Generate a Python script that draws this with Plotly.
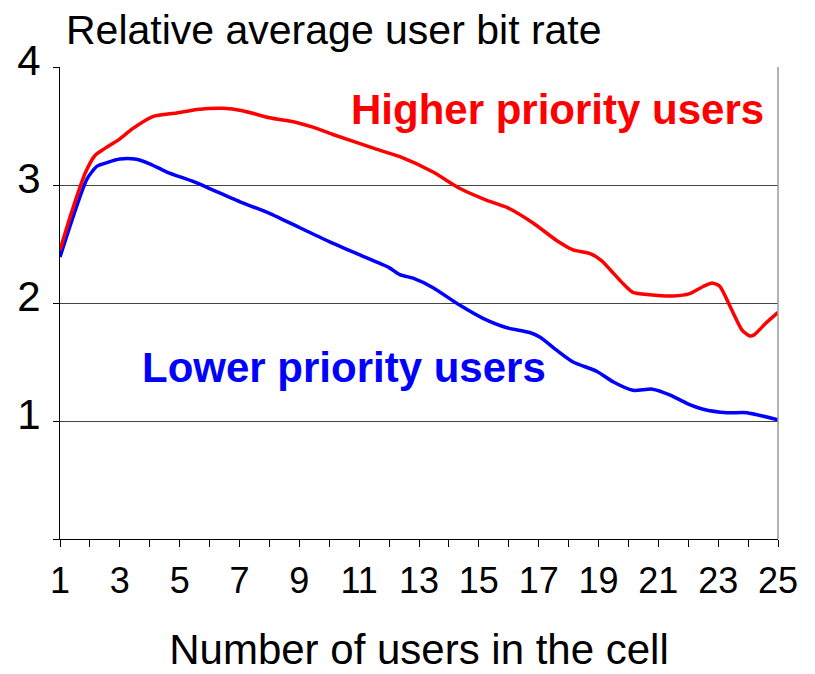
import plotly.graph_objects as go

# Data
x_high = [1, 1.4, 1.84, 2.17, 2.5, 2.94, 3.44, 4.1, 4.9, 5.58, 6.45, 7.1, 8.0, 8.9, 9.45,
          10.1, 11.5, 12.36, 13.47, 14.37, 15.27, 15.94, 16.8, 17.6, 18.15, 18.7, 19.1,
          19.4, 19.8, 20.15, 20.7, 21.5, 22.05, 22.5, 22.8, 23.06, 23.4, 23.8, 24.06,
          24.2, 24.6, 25]
y_high = [2.45, 2.78, 3.10, 3.25, 3.31, 3.38, 3.48, 3.58, 3.61, 3.64, 3.65, 3.63, 3.57,
          3.53, 3.49, 3.43, 3.31, 3.24, 3.11, 2.97, 2.87, 2.81, 2.68, 2.53, 2.45, 2.42,
          2.36, 2.28, 2.17, 2.09, 2.07, 2.06, 2.08, 2.14, 2.17, 2.14, 1.97, 1.77, 1.72,
          1.73, 1.83, 1.92]

x_low = [1, 1.9, 2.24, 2.57, 3.0, 3.5, 4.0, 4.57, 5.45, 6.0, 7.0, 8.0, 9.0, 10.0, 10.9,
         12.0, 12.36, 12.8, 13.47, 14.37, 15.14, 15.94, 16.7, 17.05, 17.6, 18.15, 18.95,
         19.5, 20.15, 20.8, 21.4, 21.95, 22.5, 23.3, 23.96, 25]
y_low = [2.39, 3.05, 3.16, 3.19, 3.22, 3.22, 3.18, 3.11, 3.03, 2.97, 2.86, 2.76, 2.64,
         2.52, 2.42, 2.30, 2.24, 2.21, 2.13, 1.98, 1.87, 1.79, 1.75, 1.71, 1.60, 1.50,
         1.42, 1.33, 1.26, 1.27, 1.22, 1.15, 1.10, 1.07, 1.07, 1.01]

x_tickvals = list(range(1, 26))
x_ticktext = [str(v) if v % 2 == 1 else "" for v in x_tickvals]
y_tickvals = [0, 1, 2, 3, 4]
y_ticktext = ["", "1", "2", "3", "4"]

title_text = "Relative average user bit rate"
x_title = "Number of users in the cell"
label_high = "Higher priority users"
label_low = "Lower priority users"

FONT = "Liberation Sans, Arial, sans-serif"
W, H = 815, 666

fig = go.Figure()
fig.add_trace(go.Scatter(x=x_low, y=y_low, mode="lines",
                         line=dict(color="#0000FF", width=3.5, shape="spline", smoothing=0.6),
                         showlegend=False, hoverinfo="skip"))
fig.add_trace(go.Scatter(x=x_high, y=y_high, mode="lines",
                         line=dict(color="#FF0000", width=3.5, shape="spline", smoothing=0.6),
                         showlegend=False, hoverinfo="skip"))

fig.add_annotation(x=17.63, y=3.64, text=f"<b>{label_high}</b>", showarrow=False,
                   font=dict(family=FONT, size=42, color="#FF0000"),
                   xanchor="center", yanchor="middle")
fig.add_annotation(x=10.49, y=1.45, text=f"<b>{label_low}</b>", showarrow=False,
                   font=dict(family=FONT, size=42, color="#0000FF"),
                   xanchor="center", yanchor="middle")

# right border of the plot area
fig.add_shape(type="line", xref="paper", yref="paper", x0=1, x1=1, y0=0, y1=1,
              line=dict(color="#999999", width=1.5))

fig.update_layout(
    width=W, height=H,
    margin=dict(l=52, r=45, t=59, b=135),
    paper_bgcolor="white", plot_bgcolor="white",
    font=dict(family=FONT, color="black"),
    title=dict(text=title_text, x=58/W, xanchor="left", xref="container",
               y=1 - 22/H, yanchor="middle", yref="container",
               font=dict(family=FONT, size=41, color="black")),
    xaxis=dict(range=[1, 25], tickmode="array", tickvals=x_tickvals, ticktext=x_ticktext,
               showgrid=False, zeroline=False, showline=True, linecolor="black", linewidth=1,
               ticks="outside", ticklen=7, tickcolor="black", tickwidth=1,
               ticklabelstandoff=3,
               tickfont=dict(family=FONT, size=36, color="black"),
               title=dict(text=x_title, font=dict(family=FONT, size=42, color="black"),
                          standoff=34),
               automargin=False),
    yaxis=dict(range=[0, 4], tickmode="array", tickvals=y_tickvals, ticktext=y_ticktext,
               showgrid=True, gridcolor="#444444", gridwidth=1,
               zeroline=False, showline=True, linecolor="black", linewidth=1,
               ticks="outside", ticklen=6, tickcolor="black", tickwidth=1,
               ticklabelshift=-7, ticklabelstandoff=4,
               tickfont=dict(family=FONT, size=42, color="black"),
               automargin=False),
)

fig.write_html("out.html")
